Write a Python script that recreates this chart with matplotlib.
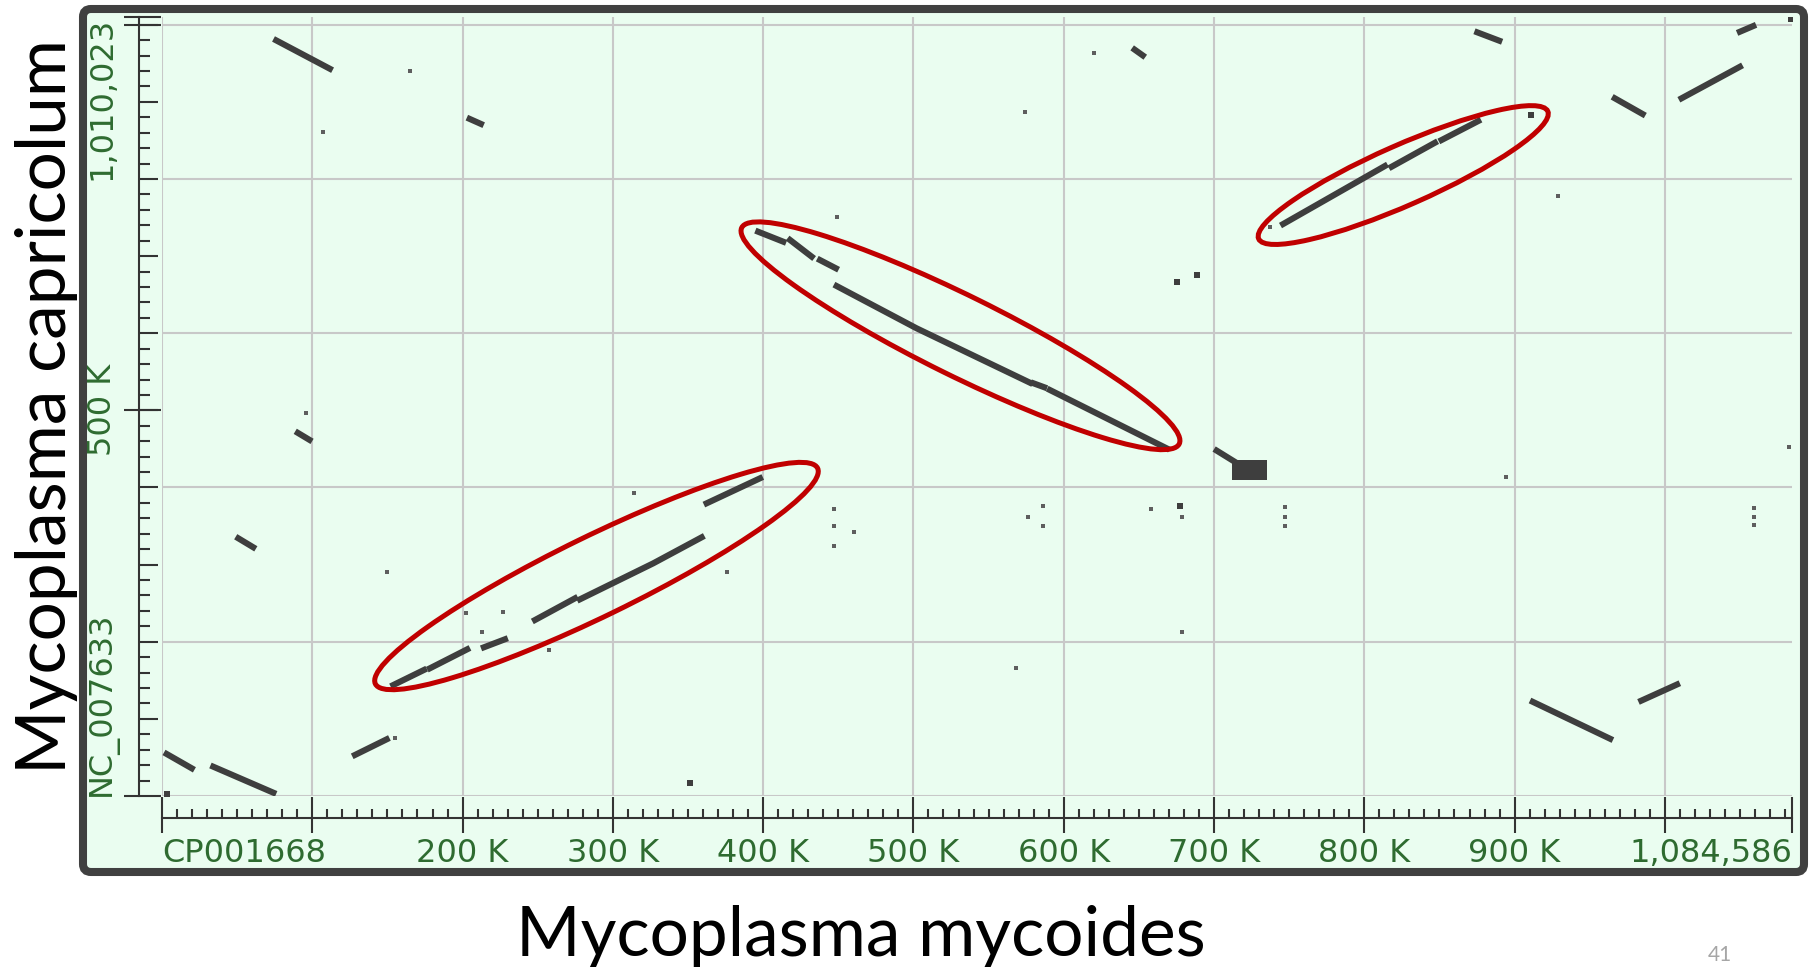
import matplotlib
matplotlib.use("Agg")
import matplotlib.pyplot as plt
import matplotlib.transforms as mtransforms
from matplotlib.patches import Ellipse, FancyBboxPatch

# genome lengths in kb
x_len = 1084.586   # CP001668  (Mycoplasma mycoides)
y_len = 1010.023   # NC_007633 (Mycoplasma capricolum)

# alignment hits, each one a run of (x kb, y kb) points
hits = [
    # upper left / top
    [(76.0, 979.7), (111.7, 942.9)],
    [(204.7, 877.9), (212.2, 871.4)],
    [(647.2, 967.7), (652.6, 960.2)],
    [(875.2, 990.1), (889.8, 979.3)],
    [(1049.9, 990.9), (1058.8, 998.3)],
    [(1011.1, 904.6), (1049.9, 945.5)],
    [(966.7, 904.6), (985.2, 884.2)],
    # forward block, upper right
    [(746.0, 741.6), (813.7, 816.8)],
    [(818.2, 815.9), (847.0, 847.0)],
    [(851.4, 850.5), (875.8, 875.1)],
    # inverted block, centre
    [(396.7, 731.6), (413.4, 718.7)],
    [(417.9, 720.9), (432.3, 699.3)],
    [(437.8, 694.9), (448.4, 684.2)],
    [(448.9, 661.2), (502.1, 606.4), (577.5, 535.9)],
    [(580.0, 535.0), (587.0, 530.0)],
    [(590.8, 526.4), (668.5, 450.8)],
    # forward block, lower left
    [(153.9, 143.9), (174.3, 163.4)],
    [(178.3, 165.6), (203.1, 190.2)],
    [(214.2, 192.8), (228.2, 203.2)],
    [(248.2, 228.2), (274.8, 256.3)],
    [(278.1, 255.0), (326.9, 301.7), (359.1, 335.4)],
    [(362.4, 379.5), (397.9, 411.9)],
    # scattered short hits
    [(90.4, 470.8), (98.1, 461.8)],
    [(50.8, 334.1), (60.7, 322.5)],
    [(701.8, 447.8), (714.4, 432.6)],
    [(3.1, 54.5), (19.8, 35.9)],
    [(34.1, 38.0), (74.1, 4.3)],
    [(128.4, 53.2), (149.5, 73.5)],
    [(912.1, 122.1), (963.6, 74.2)],
    [(984.3, 123.6), (1008.1, 144.6)],
]

# dense repeat block
block_x = [712, 735]
block_y = [410, 435]

# isolated single matches
dots_x = [165.1, 107.4, 449.0, 574.2, 620.3, 929.0, 737.2, 95.7, 149.9,
          202.3, 227.1, 212.7, 257.7, 314.0, 376.1, 155.0, 447.4, 447.4,
          460.5, 447.4, 586.2, 576.4, 586.2, 658.0, 678.8, 678.8, 747.1,
          747.1, 747.1, 568.0, 894.5, 1059.6, 1059.6, 1059.6, 1082.6]
dots_y = [939.8, 861.5, 750.7, 886.8, 963.2, 777.6, 738.1, 496.3, 290.8,
          237.7, 238.6, 213.0, 189.3, 392.5, 290.8, 74.8, 372.6, 350.0,
          342.6, 323.9, 376.1, 361.7, 350.0, 371.7, 361.7, 212.2, 375.2,
          362.2, 350.0, 166.5, 414.0, 373.5, 362.0, 351.0, 452.9]
big_x = [1083.6, 910.6, 675.1, 688.4, 677.5, 351.5, 3.5]
big_y = [1007.4, 882.9, 666.8, 675.5, 376.1, 17.4, 2.6]

# circled blocks: centre (kb), half axes (px), tilt (deg)
ring_cx = [289.1, 531.3, 825.9]
ring_cy = [285.2, 596.7, 805.1]
ring_a = [246, 244, 158]
ring_b = [40, 40, 30]
ring_tilt = [26.0, -26.3, 23.8]

x_labels = {0: "CP001668", 200: "200 K", 300: "300 K", 400: "400 K",
            500: "500 K", 600: "600 K", 700: "700 K", 800: "800 K",
            900: "900 K", x_len: "1,084,586"}
y_labels = {0: "NC_007633", 500: "500 K", y_len: "1,010,023"}

mint = "#eafdf0"
ink = "#333333"
hit_col = "#3e3e3e"
green = "#2e6b30"
lab_font = dict(family="DejaVu Sans", fontsize=23, color=green)

W, H = 1810, 967
AX_L, AX_B, AX_W, AX_H = 162, 171, 1630, 779

fig = plt.figure(figsize=(W / 100, H / 100), dpi=100)
fig.patch.set_facecolor("white")

# dark rounded panel behind everything
frame = FancyBboxPatch((0.83, 0.95), 17.21, 8.63,
                       boxstyle="round,pad=0,rounding_size=0.08",
                       transform=fig.dpi_scale_trans, facecolor=mint,
                       edgecolor="#404040", linewidth=5.8, zorder=-1)
fig.add_artist(frame)

ax = fig.add_axes([AX_L / W, AX_B / H, AX_W / W, AX_H / H])
ax.set_facecolor(mint)
ax.set_xlim(0, x_len)
ax.set_ylim(0, y_len)
for s in ax.spines.values():
    s.set_visible(False)
ax.set_xticks(range(0, 1001, 100))
ax.set_yticks(range(0, 1001, 200))
ax.tick_params(length=0, labelbottom=False, labelleft=False)
ax.grid(color="#c8c8c8", linewidth=1.5)
ax.set_axisbelow(True)

for run in hits:
    xs, ys = zip(*run)
    ax.plot(xs, ys, color=hit_col, lw=4.4, solid_capstyle="projecting")
ax.fill_between(block_x, block_y[0], block_y[1], color=hit_col, lw=0)
ax.scatter(dots_x, dots_y, marker="s", s=8, color="#5e5e5e", lw=0)
ax.scatter(big_x, big_y, marker="s", s=22, color=hit_col, lw=0)

for cx, cy, a, b, t in zip(ring_cx, ring_cy, ring_a, ring_b, ring_tilt):
    tr = fig.dpi_scale_trans + mtransforms.ScaledTranslation(cx, cy, ax.transData)
    ax.add_patch(Ellipse((0, 0), 2 * a / 100, 2 * b / 100, angle=t,
                         transform=tr, fill=False, edgecolor="#c00000",
                         lw=3.6, zorder=5))

# ruler along the x axis
bx = mtransforms.blended_transform_factory(ax.transData, ax.transAxes)
ax.plot([0, x_len], [-22 / AX_H] * 2, transform=bx, color=ink, lw=1.5, clip_on=False)
minor_x = [v for v in range(10, 1085, 10) if v % 100]
ax.vlines(minor_x, -22 / AX_H, -13 / AX_H, transform=bx, color=ink, lw=1.5, clip_on=False)
major_x = list(range(0, 1001, 100)) + [x_len]
ax.vlines(major_x, -37 / AX_H, -1 / AX_H, transform=bx, color=ink, lw=1.5, clip_on=False)
for v, txt in x_labels.items():
    ha = "left" if v == 0 else ("right" if v == x_len else "center")
    ax.text(v, -57 / AX_H, txt, transform=bx, ha=ha, va="center", **lab_font)

# ruler along the y axis
by = mtransforms.blended_transform_factory(ax.transAxes, ax.transData)
ax.plot([-23 / AX_W] * 2, [0, y_len], transform=by, color=ink, lw=1.5, clip_on=False)
minor_y = [v for v in range(20, 1010, 20) if v % 100]
ax.hlines(minor_y, -23 / AX_W, -12 / AX_W, transform=by, color=ink, lw=1.5, clip_on=False)
ax.hlines(list(range(100, 1001, 100)), -23 / AX_W, -4 / AX_W, transform=by,
          color=ink, lw=1.5, clip_on=False)
ax.hlines([0, 500, 1000, y_len], -38 / AX_W, -1 / AX_W, transform=by,
          color=ink, lw=1.5, clip_on=False)
for v, txt in y_labels.items():
    va = "bottom" if v == 0 else ("top" if v == y_len else "center")
    ax.text(-60 / AX_W, v, txt, transform=by, rotation=90, ha="center", va=va, **lab_font)

fig.text(861 / W, (H - 956) / H, "Mycoplasma mycoides", ha="center",
         va="baseline", family="Lato", fontsize=50, color="black")
fig.text(47 / W, (H - 407) / H, "Mycoplasma capricolum", ha="center",
         va="center", rotation=90, family="Lato", fontsize=50, color="black")
fig.text(1708 / W, 2 / H, "41", ha="left", va="bottom",
         family="Lato", fontsize=15, color="#a6a6a6")

fig.savefig("out.png", dpi=100)
